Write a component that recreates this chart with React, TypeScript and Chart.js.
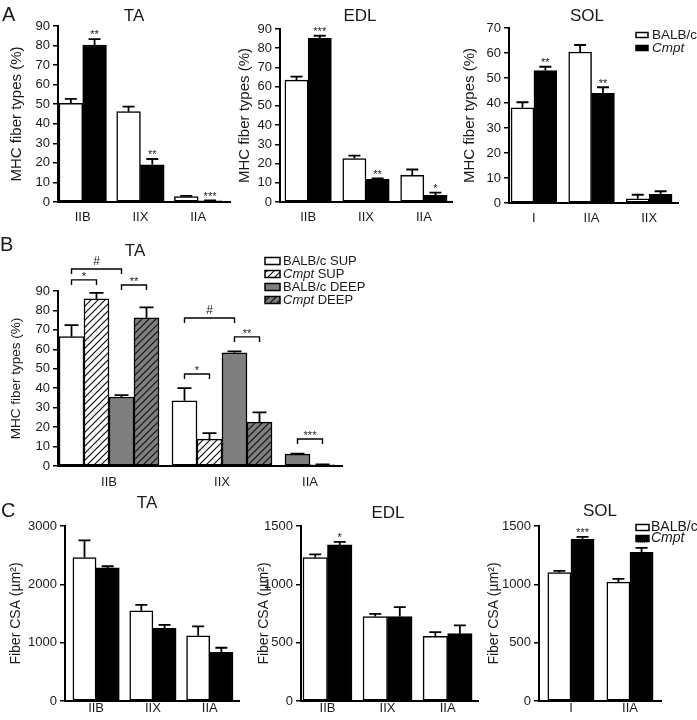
import React, { useEffect, useRef } from "react";
import { Chart, registerables } from "chart.js";

Chart.register(...registerables);

const FONT = "'Liberation Sans', Arial, Helvetica, sans-serif";
const INK = "#1a1a1a";
const GRAY = "#7f7f7f";
const ITALIC_WORDS = ["Cmpt"];

// ---------------- Panel A : MHC fiber types (%) ----------------
const A_TA_CATS = ["IIB", "IIX", "IIA"];
const A_TA_BALB = [50.4, 46.2, 2.8];
const A_TA_BALB_ERR = [2.3, 2.6, 0.3];
const A_TA_CMPT = [80.3, 19.0, 0.6];
const A_TA_CMPT_ERR = [3.0, 3.0, 0.2];
const A_TA_STARS = ["**", "**", "***"];

const A_EDL_CATS = ["IIB", "IIX", "IIA"];
const A_EDL_BALB = [63.4, 22.6, 13.9];
const A_EDL_BALB_ERR = [1.8, 1.5, 3.0];
const A_EDL_CMPT = [85.1, 11.8, 3.5];
const A_EDL_CMPT_ERR = [1.4, 0.5, 1.4];
const A_EDL_STARS = ["***", "**", "*"];

const A_SOL_CATS = ["I", "IIA", "IIX"];
const A_SOL_BALB = [38.1, 60.4, 1.7];
const A_SOL_BALB_ERR = [2.2, 2.8, 1.6];
const A_SOL_CMPT = [53.0, 43.9, 3.5];
const A_SOL_CMPT_ERR = [1.5, 2.4, 1.2];
const A_SOL_STARS = ["**", "**", ""];

// ---------------- Panel B : TA superficial / deep ----------------
const B_CATS = ["IIB", "IIX", "IIA"];
const B_BALB_SUP = [66.5, 33.5, null];
const B_BALB_SUP_ERR = [6.0, 6.6, null];
const B_CMPT_SUP = [86.0, 13.8, null];
const B_CMPT_SUP_ERR = [3.0, 3.1, null];
const B_BALB_DEEP = [35.5, 58.2, 6.1];
const B_BALB_DEEP_ERR = [1.0, 0.8, 0.3];
const B_CMPT_DEEP = [76.2, 22.6, 0.6];
const B_CMPT_DEEP_ERR = [5.4, 5.0, 0.2];

const B_BRACKET_GROUP = [0, 0, 0, 1, 1, 1, 2];
const B_BRACKET_FROM = [0, 0, 2, 0, 0, 2, 2];
const B_BRACKET_TO = [1, 2, 3, 1, 2, 3, 3];
const B_BRACKET_Y = [95.7, 101.3, 93.1, 47.3, 76.1, 66.4, 13.9];
const B_BRACKET_MARK = ["*", "#", "**", "*", "#", "**", "***"];

// ---------------- Panel C : Fiber CSA (µm²) ----------------
const C_TA_CATS = ["IIB", "IIX", "IIA"];
const C_TA_BALB = [2459, 1546, 1118];
const C_TA_BALB_ERR = [296, 103, 160];
const C_TA_CMPT = [2282, 1244, 833];
const C_TA_CMPT_ERR = [28, 62, 80];
const C_TA_STARS = ["", "", ""];

const C_EDL_CATS = ["IIB", "IIX", "IIA"];
const C_EDL_BALB = [1230, 724, 554];
const C_EDL_BALB_ERR = [26, 23, 37];
const C_EDL_CMPT = [1338, 724, 577];
const C_EDL_CMPT_ERR = [26, 80, 71];
const C_EDL_STARS = ["*", "", ""];

const C_SOL_CATS = ["I", "IIA"];
const C_SOL_BALB = [1101, 1019];
const C_SOL_BALB_ERR = [14, 28];
const C_SOL_CMPT = [1387, 1274];
const C_SOL_CMPT_ERR = [20, 39];
const C_SOL_STARS = ["***", "**"];

// ---------------- layout specs ----------------
const MHC = "MHC fiber types (%)";
const CSA = "Fiber CSA (µm²)";

const twoSeries = (balb: any, balbErr: any, cmpt: any, cmptErr: any, stars: any) => [
  { label: "BALB/c", values: balb, errors: balbErr, fill: "white" },
  { label: "Cmpt", values: cmpt, errors: cmptErr, stars, fill: "black" },
];

const PANELS: any[] = [
  {
    box: [0, 0, 236, 228], area: [58, 26, 230, 202], yW: 50, xH: 26, xPad: 8,
    yMax: 90, yStep: 10, yTitle: MHC, yTitleSize: 15,
    title: "TA", titleAt: [134, 16], cats: A_TA_CATS,
    series: twoSeries(A_TA_BALB, A_TA_BALB_ERR, A_TA_CMPT, A_TA_CMPT_ERR, A_TA_STARS),
    gap: 0.43, padL: 0.04, padR: 0.34, capW: 12,
  },
  {
    box: [236, 0, 230, 228], area: [280, 29, 452, 202], yW: 44, xH: 26, xPad: 8,
    yMax: 90, yStep: 10, yTitle: MHC, yTitleSize: 15,
    title: "EDL", titleAt: [360, 16], cats: A_EDL_CATS,
    series: twoSeries(A_EDL_BALB, A_EDL_BALB_ERR, A_EDL_CMPT, A_EDL_CMPT_ERR, A_EDL_STARS),
    gap: 0.49, padL: 0.21, padR: 0.21, capW: 12,
  },
  {
    box: [458, 0, 239, 228], area: [509, 28, 678, 203], yW: 48, xH: 25, xPad: 8,
    yMax: 70, yStep: 10, yTitle: MHC, yTitleSize: 15,
    title: "SOL", titleAt: [587, 16], cats: A_SOL_CATS,
    series: twoSeries(A_SOL_BALB, A_SOL_BALB_ERR, A_SOL_CMPT, A_SOL_CMPT_ERR, A_SOL_STARS),
    gap: 0.52, padL: 0.09, padR: 0.26, capW: 12,
    legend: { at: [636, 35], dy: 13, boxW: 12, boxH: 5, size: 13.5, textGap: 4 },
  },
  {
    box: [0, 230, 460, 261], area: [58, 291, 342, 466], yW: 50, xH: 25, xPad: 9,
    yMax: 90, yStep: 10, yTitle: MHC, yTitleSize: 13.5,
    title: "TA", titleAt: [135, 251], cats: B_CATS,
    series: [
      { label: "BALB/c SUP", values: B_BALB_SUP, errors: B_BALB_SUP_ERR, fill: "white" },
      { label: "Cmpt SUP", values: B_CMPT_SUP, errors: B_CMPT_SUP_ERR, fill: "hatchWhite" },
      { label: "BALB/c DEEP", values: B_BALB_DEEP, errors: B_BALB_DEEP_ERR, fill: "gray" },
      { label: "Cmpt DEEP", values: B_CMPT_DEEP, errors: B_CMPT_DEEP_ERR, fill: "hatchGray" },
    ],
    gap: 0.52, padL: 0.04, padR: 0.28, capW: 14,
    legend: { at: [265, 261], dy: 13, boxW: 15, boxH: 7, size: 13, textGap: 3 },
    brackets: B_BRACKET_GROUP.map((g, i) => ({
      g, from: B_BRACKET_FROM[i], to: B_BRACKET_TO[i], y: B_BRACKET_Y[i], mark: B_BRACKET_MARK[i],
    })),
  },
  {
    box: [0, 470, 245, 250], area: [65, 526, 239, 701], yW: 57, xH: 19, xPad: 0,
    yMax: 3000, yStep: 1000, yTitle: CSA, yTitleSize: 14,
    title: "TA", titleAt: [147, 503], cats: C_TA_CATS,
    series: twoSeries(C_TA_BALB, C_TA_BALB_ERR, C_TA_CMPT, C_TA_CMPT_ERR, C_TA_STARS),
    gap: 0.45, padL: 0.34, padR: 0.26, capW: 12,
  },
  {
    box: [245, 470, 238, 250], area: [301, 526, 478, 701], yW: 45, xH: 19, xPad: 0,
    yMax: 1500, yStep: 500, yTitle: CSA, yTitleSize: 14,
    title: "EDL", titleAt: [388, 513], cats: C_EDL_CATS,
    series: twoSeries(C_EDL_BALB, C_EDL_BALB_ERR, C_EDL_CMPT, C_EDL_CMPT_ERR, C_EDL_STARS),
    gap: 0.45, padL: 0.08, padR: 0.24, capW: 12,
  },
  {
    box: [483, 470, 214, 250], area: [539, 526, 661, 701], yW: 53, xH: 19, xPad: 0,
    yMax: 1500, yStep: 500, yTitle: CSA, yTitleSize: 14,
    title: "SOL", titleAt: [600, 511], cats: C_SOL_CATS,
    series: twoSeries(C_SOL_BALB, C_SOL_BALB_ERR, C_SOL_CMPT, C_SOL_CMPT_ERR, C_SOL_STARS),
    gap: 0.55, padL: 0.38, padR: 0.34, capW: 12,
    legend: { at: [636, 527.5], dy: 11, boxW: 13, boxH: 6, size: 14, textGap: 2 },
  },
];

const LETTERS = [
  { t: "A", x: 2, y: 4 },
  { t: "B", x: 0, y: 234 },
  { t: "C", x: 1, y: 500 },
];

// ---------------- helpers ----------------
function makeHatch(bg: string) {
  const s = 7;
  const c = document.createElement("canvas");
  c.width = s;
  c.height = s;
  const g = c.getContext("2d")!;
  g.fillStyle = bg;
  g.fillRect(0, 0, s, s);
  g.strokeStyle = "#111";
  g.lineWidth = 1.2;
  g.beginPath();
  g.moveTo(-1, s + 1);
  g.lineTo(s + 1, -1);
  g.moveTo(-1, 1);
  g.lineTo(1, -1);
  g.moveTo(s - 1, s + 1);
  g.lineTo(s + 1, s - 1);
  g.stroke();
  return g.createPattern(c, "repeat");
}

function resolveFill(kind: string): any {
  if (kind === "white") return "#ffffff";
  if (kind === "black") return "#000000";
  if (kind === "gray") return GRAY;
  if (kind === "hatchWhite") return makeHatch("#ffffff");
  if (kind === "hatchGray") return makeHatch(GRAY);
  return kind;
}

function drawMark(ctx: CanvasRenderingContext2D, text: string, x: number, yc: number, size: number) {
  ctx.save();
  ctx.fillStyle = INK;
  ctx.font = `${size}px ${FONT}`;
  ctx.textAlign = "center";
  ctx.textBaseline = "alphabetic";
  const base = text.includes("*") ? yc + 0.58 * size : yc + 0.36 * size;
  ctx.fillText(text, x, base);
  ctx.restore();
}

function drawLabel(ctx: CanvasRenderingContext2D, label: string, x: number, y: number, size: number) {
  ctx.save();
  ctx.textBaseline = "middle";
  ctx.textAlign = "left";
  ctx.fillStyle = INK;
  const words = label.split(" ");
  let tx = x;
  words.forEach((w, i) => {
    const it = ITALIC_WORDS.includes(w);
    ctx.font = `${it ? "italic " : ""}${size}px ${FONT}`;
    ctx.fillText(w, tx, y);
    tx += ctx.measureText(w).width;
    if (i < words.length - 1) {
      ctx.font = `${size}px ${FONT}`;
      tx += ctx.measureText(" ").width;
    }
  });
  ctx.restore();
}

function buildChart(canvas: HTMLCanvasElement, p: any) {
  const [cx, cy, cw, ch] = p.box;
  const [L, T, R, B] = p.area;
  const nG = p.cats.length;
  const starts: number[] = [];
  const centers: number[] = [];
  let cur = 0;
  for (let g = 0; g < nG; g++) {
    const present = p.series.filter((s: any) => s.values[g] != null).length;
    starts.push(cur);
    centers.push(cur + (present - 1) / 2);
    cur += present + p.gap;
  }
  const xmin = -0.5 - p.padL;
  const xmax = cur - p.gap - 0.5 + p.padR;

  const datasets = p.series.map((s: any, si: number) => {
    const data: any[] = [];
    for (let g = 0; g < nG; g++) {
      if (s.values[g] == null) continue;
      let idx = 0;
      for (let k = 0; k < si; k++) if (p.series[k].values[g] != null) idx++;
      data.push({
        x: starts[g] + idx,
        y: s.values[g],
        err: s.errors[g] ?? 0,
        star: (s.stars && s.stars[g]) || "",
        g,
      });
    }
    return {
      label: s.label,
      data,
      backgroundColor: resolveFill(s.fill),
      borderColor: "#000",
      borderWidth: 1.5,
      borderSkipped: false,
      grouped: false,
      categoryPercentage: 1,
      barPercentage: 1,
    };
  });

  const decor = {
    id: "decor",
    afterDatasetsDraw(chart: any) {
      const ctx = chart.ctx as CanvasRenderingContext2D;
      const ys = chart.scales.y;
      chart.data.datasets.forEach((ds: any, di: number) => {
        const meta = chart.getDatasetMeta(di);
        meta.data.forEach((el: any, i: number) => {
          const r = ds.data[i];
          const x = el.x;
          const yTop = ys.getPixelForValue(r.y + r.err);
          if (r.err > 0) {
            ctx.save();
            ctx.strokeStyle = "#000";
            ctx.lineWidth = 1.8;
            ctx.beginPath();
            ctx.moveTo(x, ys.getPixelForValue(r.y));
            ctx.lineTo(x, yTop);
            ctx.moveTo(x - p.capW / 2, yTop);
            ctx.lineTo(x + p.capW / 2, yTop);
            ctx.stroke();
            ctx.restore();
          }
          if (r.star) drawMark(ctx, r.star, x, yTop - 7, 11);
        });
      });
    },
    afterDraw(chart: any) {
      const ctx = chart.ctx as CanvasRenderingContext2D;
      const ys = chart.scales.y;
      // panel title
      ctx.save();
      ctx.fillStyle = INK;
      ctx.font = `17px ${FONT}`;
      ctx.textAlign = "center";
      ctx.textBaseline = "middle";
      ctx.fillText(p.title, p.titleAt[0] - cx, p.titleAt[1] - cy);
      ctx.restore();
      // legend
      if (p.legend) {
        const lg = p.legend;
        chart.data.datasets.forEach((ds: any, i: number) => {
          const x = lg.at[0] - cx;
          const y = lg.at[1] - cy + i * lg.dy;
          ctx.save();
          ctx.fillStyle = ds.backgroundColor;
          ctx.fillRect(x, y - lg.boxH / 2, lg.boxW, lg.boxH);
          ctx.strokeStyle = "#000";
          ctx.lineWidth = 1.5;
          ctx.strokeRect(x, y - lg.boxH / 2, lg.boxW, lg.boxH);
          ctx.restore();
          drawLabel(ctx, ds.label, x + lg.boxW + lg.textGap, y, lg.size);
        });
      }
      // significance brackets
      if (p.brackets) {
        const xOf = (di: number, g: number) => {
          const ds = chart.data.datasets[di];
          const idx = ds.data.findIndex((r: any) => r.g === g);
          return chart.getDatasetMeta(di).data[idx].x;
        };
        p.brackets.forEach((b: any) => {
          const x1 = xOf(b.from, b.g);
          const x2 = xOf(b.to, b.g);
          const y = ys.getPixelForValue(b.y);
          ctx.save();
          ctx.strokeStyle = "#000";
          ctx.lineWidth = 1.4;
          ctx.beginPath();
          ctx.moveTo(x1, y + 5);
          ctx.lineTo(x1, y);
          ctx.lineTo(x2, y);
          ctx.lineTo(x2, y + 5);
          ctx.stroke();
          ctx.restore();
          if (b.mark.includes("*")) drawMark(ctx, b.mark, (x1 + x2) / 2, y - 6, 11);
          else drawMark(ctx, b.mark, (x1 + x2) / 2, y - 8, 12);
        });
      }
    },
  };

  return new Chart(canvas, {
    type: "bar",
    data: { datasets },
    options: {
      responsive: false,
      animation: false,
      devicePixelRatio: 1,
      layout: {
        padding: {
          left: L - cx - p.yW,
          top: T - cy,
          right: cx + cw - R,
          bottom: cy + ch - B - p.xH,
        },
      },
      plugins: {
        legend: { display: false },
        title: { display: false },
        tooltip: { enabled: false },
      },
      scales: {
        x: {
          type: "linear",
          min: xmin,
          max: xmax,
          offset: false,
          bounds: "data",
          grid: { display: false, drawTicks: false },
          border: { display: true, color: "#000", width: 2 },
          afterBuildTicks: (sc: any) => {
            sc.ticks = centers.map((v) => ({ value: v }));
          },
          afterFit: (sc: any) => {
            sc.height = p.xH;
          },
          ticks: {
            autoSkip: false,
            maxRotation: 0,
            minRotation: 0,
            padding: p.xPad,
            color: INK,
            font: { family: FONT, size: 13 },
            callback: (_v: any, i: number) => p.cats[i],
          },
        },
        y: {
          type: "linear",
          min: 0,
          max: p.yMax,
          ticks: {
            stepSize: p.yStep,
            padding: 3,
            color: INK,
            font: { family: FONT, size: 13 },
            callback: (v: any) => String(v),
          },
          grid: {
            display: true,
            drawOnChartArea: false,
            drawTicks: true,
            tickLength: 5,
            color: "#000",
            lineWidth: 1.5,
          },
          border: { display: true, color: "#000", width: 2 },
          title: {
            display: true,
            text: p.yTitle,
            color: INK,
            font: { family: FONT, size: p.yTitleSize },
            padding: 0,
          },
          afterFit: (sc: any) => {
            sc.width = p.yW;
          },
        },
      },
    } as any,
    plugins: [decor as any],
  });
}

function PanelChart({ p }: { p: any }) {
  const ref = useRef<HTMLCanvasElement>(null);
  useEffect(() => {
    const chart = buildChart(ref.current!, p);
    return () => chart.destroy();
  }, [p]);
  const [x, y, w, h] = p.box;
  return (
    <canvas
      ref={ref}
      width={w}
      height={h}
      style={{ position: "absolute", left: x, top: y, width: w, height: h }}
    />
  );
}

export default function App() {
  return (
    <div
      style={{
        position: "absolute",
        left: 0,
        top: 0,
        width: 697,
        height: 720,
        background: "#fff",
        overflow: "hidden",
      }}
    >
      {PANELS.map((p, i) => (
        <PanelChart key={i} p={p} />
      ))}
      {LETTERS.map((l) => (
        <div
          key={l.t}
          style={{
            position: "absolute",
            left: l.x,
            top: l.y,
            fontFamily: FONT,
            fontSize: 20,
            lineHeight: "20px",
            color: INK,
          }}
        >
          {l.t}
        </div>
      ))}
    </div>
  );
}
